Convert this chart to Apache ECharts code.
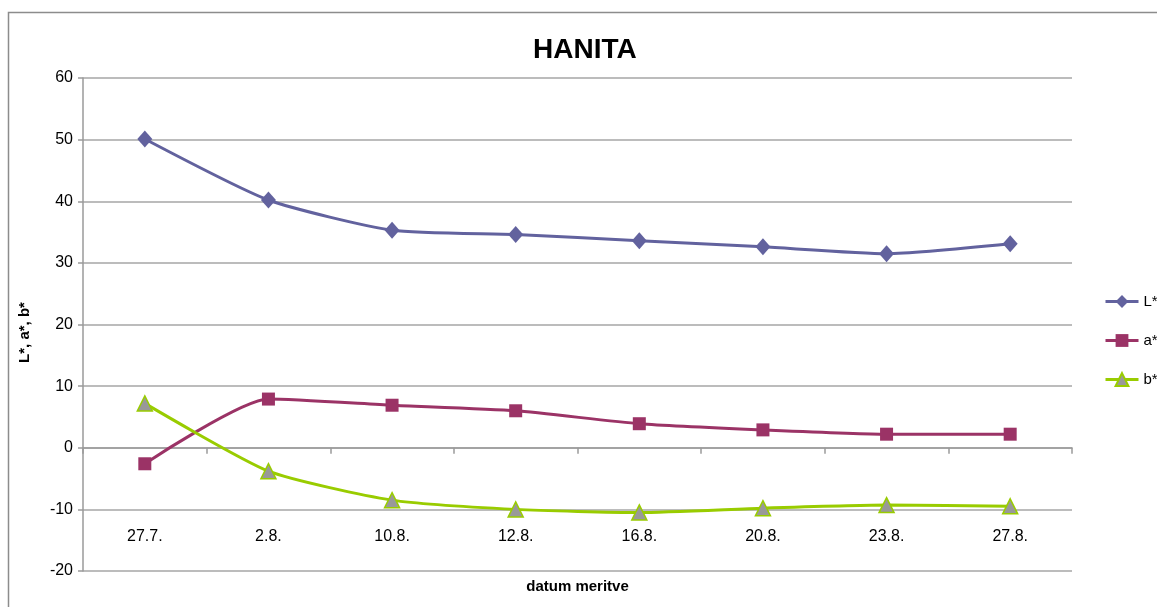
<!DOCTYPE html>
<html>
<head>
<meta charset="utf-8">
<script src="https://cdn.jsdelivr.net/npm/echarts@6/dist/echarts.min.js"></script>
<style>
  html, body { margin: 0; padding: 0; background: #fff; }
  #chart { width: 1157px; height: 607px; }
</style>
</head>
<body>
<div id="chart"></div>
<script>
// Measurement dates
const categories = ['27.7.', '2.8.', '10.8.', '12.8.', '16.8.', '20.8.', '23.8.', '27.8.'];

// CIELAB colour coordinates per date
const valuesL = [50.1, 40.2, 35.3, 34.6, 33.6, 32.6, 31.5, 33.1];
const valuesA = [-2.6, 7.9, 6.9, 6.0, 3.9, 2.9, 2.2, 2.2];
const valuesB = [7.2, -3.8, -8.5, -10.0, -10.5, -9.8, -9.3, -9.5];

const seriesNames = ['L*', 'a*', 'b*'];

const FONT = "'Liberation Sans Narrow', 'Liberation Sans', Arial, sans-serif";
const AXIS_GRAY = '#9a9a9a';

const chart = echarts.init(document.getElementById('chart'), null, { renderer: 'canvas' });

chart.setOption({
  animation: false,
  backgroundColor: '#ffffff',
  textStyle: { fontFamily: FONT, color: '#000' },
  graphic: [{
    type: 'rect',
    silent: true,
    shape: { x: 8.5, y: 12.5, width: 1300, height: 800 },
    style: { fill: 'none', stroke: '#8c8c8c', lineWidth: 1.5 }
  }],
  title: {
    text: 'HANITA',
    left: 533,
    top: 36,
    padding: 0,
    textStyle: { fontFamily: FONT, fontSize: 28, fontWeight: 'bold', color: '#000' }
  },
  legend: {
    orient: 'vertical',
    left: 1104,
    top: 294,
    padding: 0,
    itemWidth: 33,
    itemHeight: 16,
    itemGap: 24,
    lineStyle: { width: 3 },
    textStyle: { fontFamily: FONT, fontSize: 15, color: '#000' },
    data: seriesNames
  },
  grid: { left: 83, right: 85, top: 78, bottom: 36, containLabel: false, outerBoundsMode: 'none' },
  xAxis: [
    {
      // axis line and ticks crossing at zero
      type: 'category',
      data: categories,
      boundaryGap: true,
      axisLine: { onZero: true, lineStyle: { color: AXIS_GRAY, width: 1.5 } },
      axisTick: { show: true, length: 6, lineStyle: { color: AXIS_GRAY, width: 1.5 } },
      axisLabel: { show: false },
      splitLine: { show: false }
    },
    {
      // date labels and title sitting near the bottom of the plot
      type: 'category',
      data: categories,
      position: 'bottom',
      boundaryGap: true,
      axisLine: { show: false, onZero: false },
      axisTick: { show: false },
      axisLabel: { inside: true, margin: 26, fontFamily: FONT, fontSize: 16, color: '#000' },
      splitLine: { show: false },
      name: 'datum meritve',
      nameLocation: 'middle',
      nameGap: 8,
      nameTextStyle: { fontFamily: FONT, fontSize: 15, fontWeight: 'bold', color: '#000', verticalAlign: 'top' }
    }
  ],
  yAxis: {
    type: 'value',
    min: -20,
    max: 60,
    interval: 10,
    axisLine: { show: true, lineStyle: { color: AXIS_GRAY, width: 1.5 } },
    axisTick: { show: true, length: 5, lineStyle: { color: AXIS_GRAY, width: 1.5 } },
    axisLabel: { margin: 10, fontFamily: FONT, fontSize: 16, color: '#000' },
    splitLine: { show: true, lineStyle: { color: '#a6a6a6', width: 1.5 } },
    name: 'L*, a*, b*',
    nameLocation: 'middle',
    nameGap: 51,
    nameRotate: 90,
    nameTextStyle: { fontFamily: FONT, fontSize: 15, fontWeight: 'bold', color: '#000', padding: [0, 16, 0, 0] }
  },
  series: [
    {
      name: seriesNames[0],
      type: 'line',
      xAxisIndex: 0,
      data: valuesL,
      smooth: 0.2,
      symbol: 'diamond',
      symbolSize: [15, 17],
      lineStyle: { color: '#62629e', width: 3 },
      itemStyle: { color: '#62629e' },
      z: 3
    },
    {
      name: seriesNames[1],
      type: 'line',
      xAxisIndex: 0,
      data: valuesA,
      smooth: 0.2,
      symbol: 'rect',
      symbolSize: 13,
      lineStyle: { color: '#9b3366', width: 3 },
      itemStyle: { color: '#9b3366' },
      z: 4
    },
    {
      name: seriesNames[2],
      type: 'line',
      xAxisIndex: 0,
      data: valuesB,
      smooth: 0.2,
      symbol: 'triangle',
      symbolSize: [15, 15],
      lineStyle: { color: '#99cc00', width: 3 },
      itemStyle: { color: '#999999', borderColor: '#99cc00', borderWidth: 1.5 },
      z: 5
    }
  ]
});
</script>
</body>
</html>
